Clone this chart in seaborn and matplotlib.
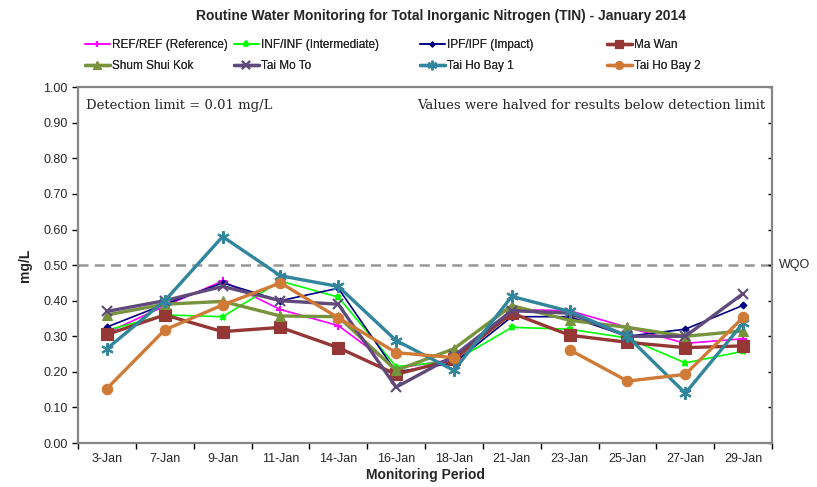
#!/usr/bin/env python3
"""Routine water monitoring chart: Total Inorganic Nitrogen, January 2014."""

import matplotlib

matplotlib.use("Agg")

import matplotlib.pyplot as plt
import numpy as np
import pandas as pd
import seaborn as sns
from matplotlib.ticker import FixedLocator, FormatStrFormatter

sns.set_theme(style="white")
plt.rcParams["font.family"] = ["Liberation Sans", "DejaVu Sans"]

# --- data (mg/L) ---
dates = ["3-Jan", "7-Jan", "9-Jan", "11-Jan", "14-Jan", "16-Jan",
         "18-Jan", "21-Jan", "23-Jan", "25-Jan", "27-Jan", "29-Jan"]

ref = [0.31, 0.385, 0.455, 0.375, 0.33, 0.21, 0.235, 0.375, 0.372, 0.325, 0.28, 0.293]
inf = [0.317, 0.36, 0.355, 0.455, 0.41, 0.215, 0.23, 0.325, 0.32, 0.295, 0.225, 0.258]
ipf = [0.326, 0.39, 0.45, 0.40, 0.435, 0.20, 0.225, 0.355, 0.355, 0.30, 0.32, 0.387]
ma_wan = [0.305, 0.36, 0.313, 0.325, 0.268, 0.193, 0.235, 0.365, 0.303, 0.283, 0.268, 0.273]
shum_shui_kok = [0.36, 0.39, 0.398, 0.357, 0.355, 0.204, 0.265, 0.386, 0.345, 0.325, 0.30, 0.315]
tai_mo_to = [0.37, 0.40, 0.44, 0.40, 0.39, 0.157, 0.245, 0.372, 0.365, 0.30, 0.30, 0.42]
tai_ho_bay_1 = [0.265, 0.40, 0.58, 0.47, 0.44, 0.288, 0.204, 0.412, 0.37, 0.30, 0.14, 0.337]
tai_ho_bay_2 = [0.153, 0.318, 0.388, 0.45, 0.352, 0.254, 0.24, np.nan, 0.262, 0.174, 0.193, 0.353]

wqo = 0.50

series = [
    # label, values, colour, marker, markersize, linewidth
    ("REF/REF (Reference)", ref, "#FF00FF", "+", 6, 1.2),
    ("INF/INF (Intermediate)", inf, "#00FF00", "*", 5, 1.2),
    ("IPF/IPF (Impact)", ipf, "#000080", "D", 3.5, 1.2),
    ("Ma Wan", ma_wan, "#953735", "s", 8, 2.4),
    ("Shum Shui Kok", shum_shui_kok, "#77933C", "^", 7, 2.4),
    ("Tai Mo To", tai_mo_to, "#604A7B", "x", 7, 2.4),
    ("Tai Ho Bay 1", tai_ho_bay_1, "#31859C", (6, 2, 0), 9, 2.4),
    ("Tai Ho Bay 2", tai_ho_bay_2, "#D07A38", "o", 7.5, 2.4),
]


def segments(values):
    """Split a series at missing values so the line shows a gap."""
    df = pd.DataFrame({"date": dates, "value": values})
    df["seg"] = df["value"].isna().cumsum()
    df = df.dropna()
    return [g for _, g in df.groupby("seg")]


fig = plt.figure(figsize=(8.17, 4.87), dpi=100)
ax = fig.add_axes([0.0955, 0.0903, 0.8495, 0.7307])

for label, values, color, marker, ms, lw in series:
    thin_marker = marker in ("+", "x", "*") or isinstance(marker, tuple)
    for i, seg in enumerate(segments(values)):
        sns.lineplot(
            x=seg["date"], y=seg["value"], ax=ax, sort=False, estimator=None,
            color=color, marker=marker, markersize=ms, linewidth=lw,
            markeredgecolor=color, markeredgewidth=1.5 if thin_marker else 0.8,
            label=label if i == 0 else None,
        )

ax.axhline(wqo, color="#969696", linestyle=(0, (4, 2.5)), linewidth=1.8, zorder=0)
ax.text(1.01, wqo, "WQO", transform=ax.get_yaxis_transform(), va="center", ha="left",
        fontsize=9)

n = len(dates)
ax.set_xlim(-0.5, n - 0.5)
ax.set_ylim(0, 1.0)
ax.set_xticks(range(n))
ax.set_xticklabels(dates, fontsize=9)
ax.xaxis.set_minor_locator(FixedLocator(np.arange(-0.5, n, 1.0)))
ax.tick_params(axis="x", which="major", length=0, pad=7)
ax.tick_params(axis="x", which="minor", bottom=True, direction="out", length=4,
               width=1, color="black")
ax.set_yticks(np.arange(0, 1.01, 0.1))
ax.yaxis.set_major_formatter(FormatStrFormatter("%.2f"))
ax.tick_params(axis="y", left=True, right=True, direction="out", length=4,
               width=1, color="black", labelsize=9, labelright=False)
for t in ax.yaxis.get_major_ticks():
    t.tick2line.set_marker(matplotlib.lines.TICKLEFT)
    t.tick2line.set_markersize(3)
    t.tick2line.set_color("#868686")

for sp in ax.spines.values():
    sp.set_color("#868686")
    sp.set_linewidth(1.6)

ax.set_xlabel("Monitoring Period", fontsize=10, fontweight="bold", labelpad=2)
ax.set_ylabel("mg/L", fontsize=10, fontweight="bold", labelpad=8)

ax.text(0.012, 0.948, "Detection limit = 0.01 mg/L", transform=ax.transAxes,
        ha="left", va="center", fontsize=9.5, family="DejaVu Serif")
ax.text(0.99, 0.948, "Values were halved for results below detection limit",
        transform=ax.transAxes, ha="right", va="center", fontsize=9.5,
        family="DejaVu Serif")

fig.suptitle("Routine Water Monitoring for Total Inorganic Nitrogen (TIN) - January 2014",
             x=0.54, y=0.982, fontsize=10, fontweight="bold")

# legend: four columns of two entries, each column placed where the reference has it
handles, labels = ax.get_legend_handles_labels()
ax.get_legend().remove()
col_x = [85, 234, 420, 607]
for c, x0 in enumerate(col_x):
    idx = [c, c + 4]
    leg = fig.legend([handles[i] for i in idx], [labels[i] for i in idx],
                     loc="upper left", bbox_to_anchor=(x0 / 817, 1 - 39 / 487),
                     ncol=1, frameon=False, fontsize=8.5, handlelength=2.1,
                     handletextpad=0.2, labelspacing=0.75, borderaxespad=0,
                     borderpad=0, markerscale=0.75)
    fig.add_artist(leg)

fig.savefig("out.png", dpi=100)
